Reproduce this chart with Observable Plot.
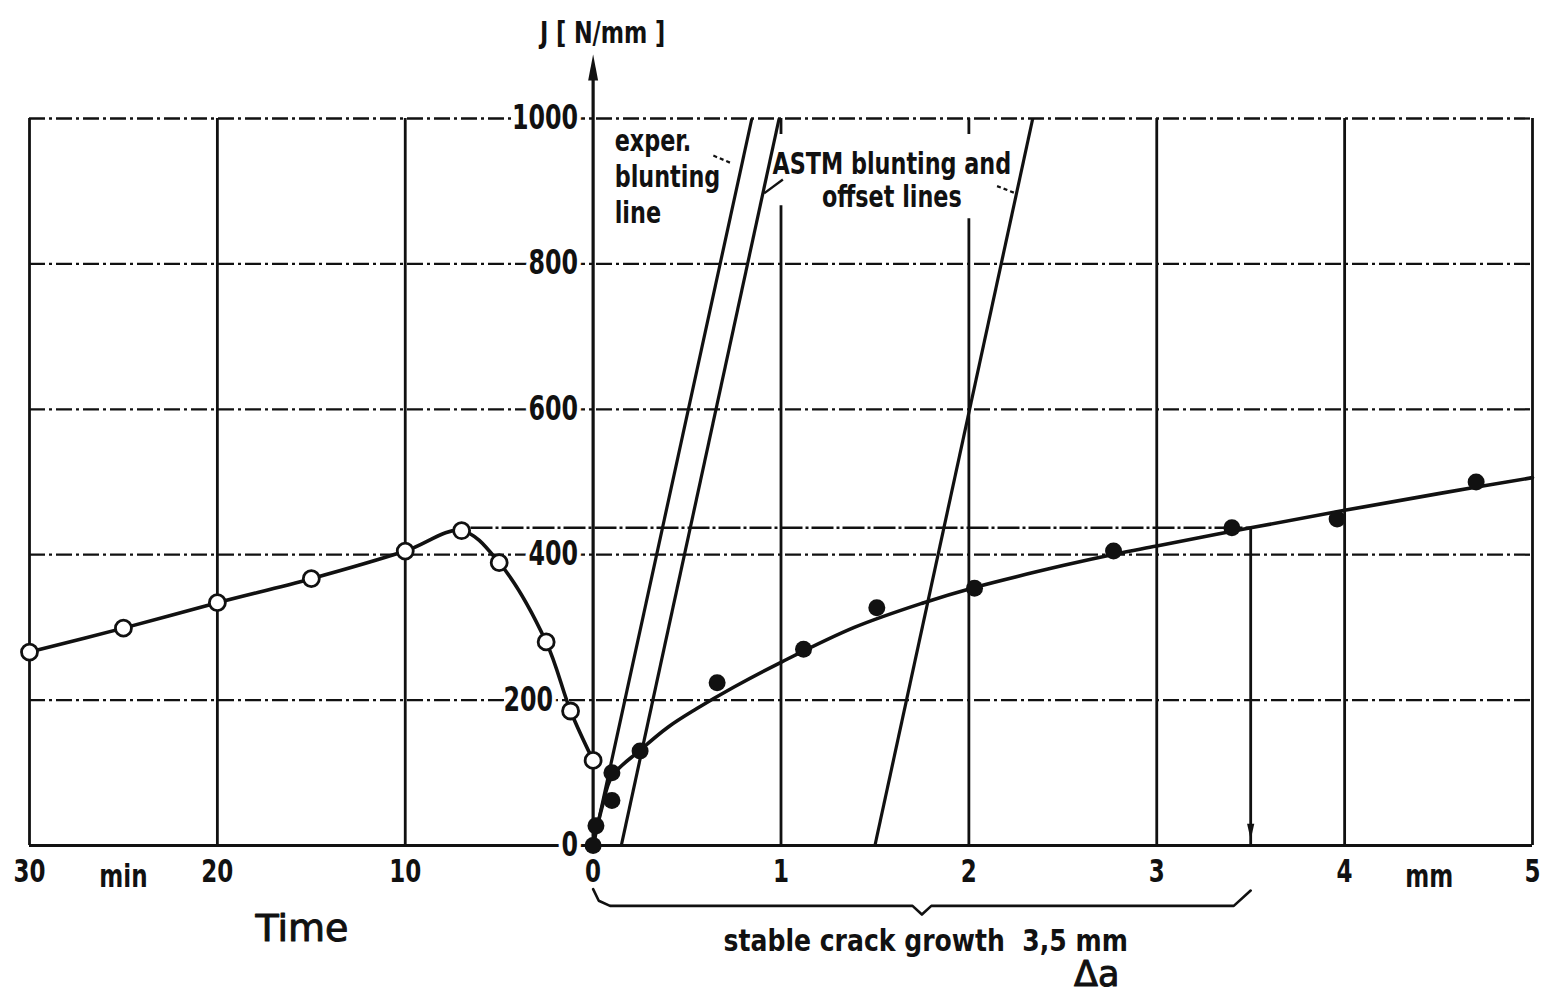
<!DOCTYPE html>
<html>
<head>
<meta charset="utf-8">
<script src="https://cdn.jsdelivr.net/npm/d3@7"></script>
<script src="https://cdn.jsdelivr.net/npm/@observablehq/plot@0.6"></script>
<style>
  html, body { margin: 0; padding: 0; background: #fff; }
  #chart svg { display: block; }
</style>
</head>
<body>
<div id="chart"></div>
<script>
// Hold time before the test (min) and the J value reached at each reading
const timeMinutes = [30, 25, 20, 15, 10, 7, 5, 2.5, 1.2, 0];
const timeJ = [266, 299, 334, 367, 405, 433, 389, 280, 185, 117];

// Measured R-curve points: crack extension Δa (mm) and J (N/mm)
const crackDa = [0, 0.015, 0.1, 0.1, 0.25, 0.66, 1.12, 1.51, 2.03, 2.77, 3.40, 3.96, 4.70];
const crackJ = [0, 27, 62, 100, 130, 224, 270, 327, 354, 405, 437, 449, 500];

// Fitted R-curve through the measured points
const fitDa = [0, 0.05, 0.1, 0.25, 0.4, 0.55, 0.75, 1.0, 1.39, 1.76, 2.03, 2.5, 2.78, 3.0, 3.5, 4.0, 4.5, 5.0];
const fitJ = [0, 55, 95, 131, 163, 188, 218, 252, 300, 334, 355, 385, 401, 412, 437, 461, 484, 506];

// Blunting / offset lines: Δa at J = 0 and Δa at J = 1000
const bluntNames = ["exper. blunting", "offset 0.15 mm", "offset 1.5 mm"];
const bluntStartDa = [0, 0.15, 1.5];
const bluntEndDa = [0.845, 0.99, 2.34];

// Stable crack growth and the J level it is read at
const stableGrowth = 3.5;
const stableJ = 437;
const peakMinutes = 6.5;

// Axis ticks
const yTicks = [0, 200, 400, 600, 800, 1000];
const xTicks = [-3, -2, -1, 0, 1, 2, 3, 4, 5];
const xTickLabels = ["30", "20", "10", "0", "1", "2", "3", "4", "5"];

const FONT = "'Liberation Sans Narrow', 'DejaVu Sans Condensed', 'Roboto Condensed', sans-serif";
const INK = "#111";

// Time is drawn to the left of the J axis: 10 min per unit, counting down to 0
const timeData = timeMinutes.map((t, i) => ({x: -t / 10, J: timeJ[i]}));
const crackData = crackDa.map((a, i) => ({x: a, J: crackJ[i]}));
const fitData = fitDa.map((a, i) => ({x: a, J: fitJ[i]}));
const bluntData = bluntNames.map((name, i) => ({name, x1: bluntStartDa[i], x2: bluntEndDa[i], y1: 0, y2: 1000}));
const tickLabel = new Map(xTicks.map((v, i) => [v, xTickLabels[i]]));

// Curly brace under the stable crack growth range
const mid = stableGrowth / 2;
const brace = [
  [0, -60], [0.03, -76], [0.09, -83], [mid - 0.05, -83], [mid, -95],
  [mid + 0.05, -83], [stableGrowth - 0.09, -83], [stableGrowth, -62]
].map(([x, J]) => ({x, J}));

// Narrow filled arrowheads, tip at the anchor point
const headUp = {draw(ctx) { ctx.moveTo(0, 0); ctx.lineTo(5, 26); ctx.lineTo(-5, 26); ctx.closePath(); }};
const headDown = {draw(ctx) { ctx.moveTo(0, 0); ctx.lineTo(3.6, -16); ctx.lineTo(-3.6, -16); ctx.closePath(); }};

const DASHDOT = "16,4,3,4";
const GRID_W = 2.8;

const chart = Plot.plot({
  width: 1544,
  height: 998,
  marginLeft: 29,
  marginRight: 12,
  marginTop: 118,
  marginBottom: 153,
  x: {domain: [-3, 5]},
  y: {domain: [0, 1000], axis: null},
  style: {fontFamily: FONT, background: "white", color: INK, overflow: "visible"},
  marks: [
    // horizontal grid (dash-dot) and the solid base line
    Plot.ruleY(yTicks.filter(d => d > 0), {x1: -3, x2: 5, stroke: INK, strokeWidth: 2.3, strokeDasharray: DASHDOT}),
    Plot.ruleY([0], {x1: -3, x2: 5, stroke: INK, strokeWidth: GRID_W}),
    // vertical grid lines
    Plot.ruleX([-3, -2, -1, 3, 4, 5], {y1: 0, y2: 1000, stroke: INK, strokeWidth: GRID_W}),
    Plot.ruleX([1], {y1: 0, y2: 880, stroke: INK, strokeWidth: GRID_W}),
    Plot.ruleX([2], {y1: 0, y2: 862, stroke: INK, strokeWidth: GRID_W}),
    Plot.ruleX([1, 2], {y1: 978, y2: 1000, stroke: INK, strokeWidth: GRID_W}),

    // J tick labels, masking the grid behind them
    Plot.text(yTicks.filter(d => d !== 200), {
      x: 0, y: d => d, text: d => String(d), textAnchor: "end", dx: -15,
      fontSize: 33, fontWeight: "bold", fill: INK, stroke: "white", strokeWidth: 10, paintOrder: "stroke"
    }),
    Plot.text([200], {
      x: 0, y: d => d, text: d => String(d), textAnchor: "end", dx: -40,
      fontSize: 33, fontWeight: "bold", fill: INK, stroke: "white", strokeWidth: 10, paintOrder: "stroke"
    }),

    // x tick labels and units
    Plot.axisX(xTicks, {
      tickFormat: d => tickLabel.get(d), tickSize: 0, tickPadding: 14,
      fontSize: 32, fontWeight: "bold", fontFamily: FONT
    }),
    Plot.text(["min"], {x: -2.5, y: 0, text: d => d, dy: 31, fontSize: 32, fontWeight: "bold", fill: INK}),
    Plot.text(["mm"], {x: 4.45, y: 0, text: d => d, dy: 31, fontSize: 32, fontWeight: "bold", fill: INK}),

    // annotation text
    Plot.text(["exper.\nblunting\nline"], {
      x: 0.115, y: 922, text: d => d, textAnchor: "start", lineHeight: 1.16,
      fontSize: 31, fontWeight: "bold", fill: INK, stroke: "white", strokeWidth: 6, paintOrder: "stroke"
    }),
    Plot.text(["ASTM blunting and\noffset lines"], {
      x: 1.59, y: 916, text: d => d, textAnchor: "middle", lineHeight: 1.06,
      fontSize: 31, fontWeight: "bold", fill: INK, stroke: "white", strokeWidth: 8, paintOrder: "stroke"
    }),

    // blunting and offset lines
    Plot.link(bluntData, {x1: "x1", y1: "y1", x2: "x2", y2: "y2", stroke: INK, strokeWidth: 3.2}),
    // leaders from the labels to the lines
    Plot.link([{x1: 0.64, y1: 949, x2: 0.74, y2: 938}], {x1: "x1", y1: "y1", x2: "x2", y2: "y2", stroke: INK, strokeWidth: 2.2, strokeDasharray: "4,3"}),
    Plot.link([{x1: 1.01, y1: 916, x2: 0.91, y2: 897}], {x1: "x1", y1: "y1", x2: "x2", y2: "y2", stroke: INK, strokeWidth: 2.4}),
    Plot.link([{x1: 2.15, y1: 907, x2: 2.25, y2: 897}], {x1: "x1", y1: "y1", x2: "x2", y2: "y2", stroke: INK, strokeWidth: 2.2, strokeDasharray: "4,3"}),

    // J axis with arrowhead
    Plot.ruleX([0], {y1: 0, y2: 1070, stroke: INK, strokeWidth: 3.2}),
    Plot.dot([0], {x: d => d, y: 1088, symbol: headUp, fill: INK, stroke: "none"}),
    Plot.text(["J [ N/mm ]"], {x: 0.05, y: 1118, text: d => d, fontSize: 31, fontWeight: "bold", fill: INK}),

    // J level at the peak carried over to the stable crack growth
    Plot.ruleY([stableJ], {x1: -peakMinutes / 10, x2: stableGrowth, stroke: INK, strokeWidth: 2.5, strokeDasharray: "22,3,3,3"}),
    Plot.ruleX([stableGrowth], {y1: stableJ, y2: 0, stroke: INK, strokeWidth: 2.8}),
    Plot.dot([stableGrowth], {x: d => d, y: 8, symbol: headDown, fill: INK, stroke: "none"}),

    // time curve
    Plot.line(timeData, {x: "x", y: "J", curve: "catmull-rom", stroke: INK, strokeWidth: 3.6}),
    Plot.dot(timeData, {x: "x", y: "J", r: 8, fill: "white", stroke: INK, strokeWidth: 2.8}),

    // R-curve
    Plot.line(fitData, {x: "x", y: "J", curve: "catmull-rom", stroke: INK, strokeWidth: 3.6}),
    Plot.dot(crackData, {x: "x", y: "J", r: 8.5, fill: INK, stroke: "none"}),

    // brace and its labels
    Plot.line(brace, {x: "x", y: "J", stroke: INK, strokeWidth: 2.6}),
    Plot.text([`stable crack growth  ${String(stableGrowth).replace(".", ",")} mm`], {
      x: mid + 0.02, y: -131, text: d => d, fontSize: 31, fontWeight: "bold", fill: INK
    }),
    Plot.text(["Δa"], {
      x: 2.68, y: -178, text: d => d, fontSize: 35, fontFamily: "'DejaVu Sans', sans-serif",
      fill: INK, stroke: INK, strokeWidth: 1
    }),
    Plot.text(["Time"], {
      x: -1.55, y: -114, text: d => d, fontSize: 38, fontFamily: "'DejaVu Sans', sans-serif",
      fill: INK, stroke: INK, strokeWidth: 1
    })
  ]
});

// Narrow the condensed lettering horizontally, keeping each label on its anchor
d3.select(chart).selectAll("text").each(function () {
  const txt = this.textContent;
  if (txt === "Time" || txt === "Δa") return;
  const k = txt.startsWith("stable") ? 0.9 : 0.8;
  const t = this.getAttribute("transform") || "";
  this.setAttribute("transform", `${t} scale(${k},1)`);
});

document.getElementById("chart").appendChild(chart);
</script>
</body>
</html>
